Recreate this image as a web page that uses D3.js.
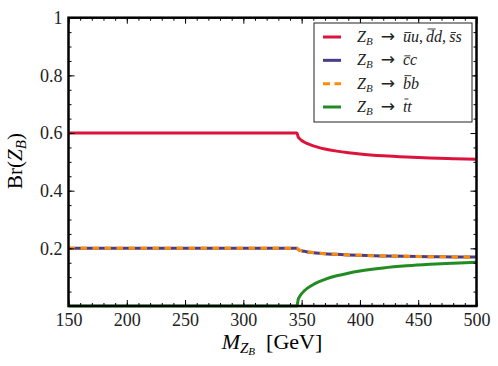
<!DOCTYPE html>
<html>
<head>
<meta charset="utf-8">
<script src="https://cdn.jsdelivr.net/npm/d3@7"></script>
<style>
  body { margin: 0; background: #fff; }
  text { font-family: "Liberation Serif", "DejaVu Serif", serif; }
</style>
</head>
<body>
<svg id="chart" width="498" height="366"></svg>
<script>
// Z_B mass (GeV) and branching ratios
const massGeV = [150, 200, 250, 300, 346, 347, 348, 350, 352, 355, 360, 365, 370, 380, 390, 400, 420, 440, 460, 480, 500];
const brLight = [0.6, 0.6, 0.6, 0.6, 0.6, 0.5867, 0.5814, 0.5742, 0.569, 0.5629, 0.5552, 0.5493, 0.5445, 0.5372, 0.5316, 0.5273, 0.5209, 0.5165, 0.5132, 0.5108, 0.5089];
const brCharm = [0.2, 0.2, 0.2, 0.2, 0.2, 0.1956, 0.1938, 0.1914, 0.1897, 0.1876, 0.1851, 0.1831, 0.1815, 0.1791, 0.1772, 0.1758, 0.1736, 0.1722, 0.1711, 0.1703, 0.1696];
const brBottom = [0.2, 0.2, 0.2, 0.2, 0.2, 0.1956, 0.1938, 0.1914, 0.1897, 0.1876, 0.1851, 0.1831, 0.1815, 0.1791, 0.1772, 0.1758, 0.1736, 0.1722, 0.1711, 0.1703, 0.1696];
const brTop = [0, 0, 0, 0, 0, 0.0222, 0.031, 0.043, 0.0517, 0.0619, 0.0747, 0.0845, 0.0924, 0.1047, 0.1139, 0.1212, 0.1318, 0.1392, 0.1446, 0.1487, 0.152];

const xTicks = [150, 200, 250, 300, 350, 400, 450, 500];
const yTicks = [0.2, 0.4, 0.6, 0.8, 1];

// legend: final-state quark pairs, each written as antiquark + quark
const legendPairs = [['u', 'd', 's'], ['c'], ['b'], ['t']];

const svg = d3.select('#chart');
const pLeft = 68.5, pRight = 476.5, pTop = 17.7, pBottom = 306;

const x = d3.scaleLinear().domain([150, 500]).range([pLeft, pRight]);
const y = d3.scaleLinear().domain([0, 1]).range([pBottom, pTop]);

svg.append('clipPath').attr('id', 'plotclip')
  .append('rect')
  .attr('x', pLeft).attr('y', pTop - 2)
  .attr('width', pRight - pLeft).attr('height', pBottom - pTop + 4);

const series = [
  { vals: brLight, color: '#dc143c', dash: null },
  { vals: brCharm, color: '#483d8b', dash: null },
  { vals: brBottom, color: '#ff8c00', dash: '6.5,5.5' },
  { vals: brTop, color: '#228b22', dash: null }
];

const line = d3.line()
  .x((d) => x(d[0]))
  .y((d) => y(d[1]))
  .curve(d3.curveMonotoneX);

const g = svg.append('g').attr('clip-path', 'url(#plotclip)');
series.forEach((s) => {
  g.append('path')
    .datum(massGeV.map((m, i) => [m, s.vals[i]]))
    .attr('d', line)
    .attr('fill', 'none')
    .attr('stroke', s.color)
    .attr('stroke-width', 3)
    .attr('stroke-dasharray', s.dash);
});

// ticks (inward, mirrored on all four sides)
const xMinor = d3.range(150, 501, 10);
const yMinor = d3.range(0, 1.001, 0.05);
const fmtY = (d) => (d === 1 ? '1' : d.toFixed(1));

function tickAxis(axis, pos, transform, values, size, labels, fmt) {
  const a = axis(pos).tickValues(values).tickSize(-size).tickPadding(labels ? 7 : 0);
  a.tickFormat(labels ? fmt : () => '');
  const ga = svg.append('g').attr('transform', transform).call(a);
  ga.select('.domain').remove();
  ga.selectAll('line').attr('stroke', '#000').attr('stroke-width', 1);
  ga.selectAll('text')
    .style('font-family', '"Liberation Serif", serif')
    .style('font-size', '18px')
    .attr('fill', '#222');
  return ga;
}

tickAxis(d3.axisBottom, x, `translate(0,${pBottom})`, xMinor, 3, false);
tickAxis(d3.axisBottom, x, `translate(0,${pBottom})`, xTicks, 6, true, d3.format('d'));
tickAxis(d3.axisTop, x, `translate(0,${pTop})`, xMinor, 3, false);
tickAxis(d3.axisTop, x, `translate(0,${pTop})`, xTicks, 6, false);
tickAxis(d3.axisLeft, y, `translate(${pLeft},0)`, yMinor, 3, false);
const ly = tickAxis(d3.axisLeft, y, `translate(${pLeft},0)`, yTicks, 6, true, fmtY);
ly.selectAll('text').attr('x', -6);
tickAxis(d3.axisRight, y, `translate(${pRight},0)`, yMinor, 3, false);
tickAxis(d3.axisRight, y, `translate(${pRight},0)`, yTicks, 6, false);

// frame
svg.append('rect')
  .attr('x', pLeft).attr('y', pTop)
  .attr('width', pRight - pLeft).attr('height', pBottom - pTop)
  .attr('fill', 'none').attr('stroke', '#000').attr('stroke-width', 2.5);

// axis labels
const yl = svg.append('text')
  .attr('transform', 'translate(22,161) rotate(-90)')
  .attr('text-anchor', 'middle')
  .style('font-size', '21px');
yl.append('tspan').text('Br(');
yl.append('tspan').attr('font-style', 'italic').text('Z');
yl.append('tspan').attr('font-style', 'italic').attr('font-size', '15px').attr('dy', 4).text('B');
yl.append('tspan').attr('dy', -4).text(')');

const xl = svg.append('text')
  .attr('x', 272).attr('y', 349)
  .attr('text-anchor', 'middle')
  .style('font-size', '22px');
xl.append('tspan').attr('font-style', 'italic').text('M');
xl.append('tspan').attr('font-style', 'italic').attr('font-size', '15px').attr('dy', 4).text('Z');
xl.append('tspan').attr('font-style', 'italic').attr('font-size', '11px').attr('dy', 2).text('B');
xl.append('tspan').attr('dy', -6).text('\u2002[GeV]');

// legend
svg.append('rect')
  .attr('x', 314).attr('y', 23).attr('width', 158).attr('height', 99)
  .attr('fill', '#fff').attr('stroke', '#222').attr('stroke-width', 1);

const tallLetters = 'bdt';
const legendY = d3.scaleLinear().domain([0, 3]).range([37, 107]);
series.forEach((s, i) => {
  const yy = legendY(i);
  svg.append('line')
    .attr('x1', 323).attr('x2', 341).attr('y1', yy).attr('y2', yy)
    .attr('stroke', s.color).attr('stroke-width', 3)
    .attr('stroke-dasharray', i === 2 ? '7,4.5' : null);
  const t = svg.append('text')
    .attr('x', 357).attr('y', yy + 5)
    .style('font-size', '16px')
    .attr('fill', '#222');
  t.append('tspan').attr('font-style', 'italic').text('Z');
  t.append('tspan').attr('font-style', 'italic').attr('font-size', '11px').attr('dy', 3).text('B');
  t.append('tspan').attr('dy', -3).text('\u2002');
  t.append('tspan').style('font-family', '"DejaVu Sans", sans-serif').attr('font-size', '17px').text('\u2192');
  t.append('tspan').text('\u2002');
  const bars = [];
  legendPairs[i].forEach((q, k) => {
    if (k > 0) t.append('tspan').text(',\u2009');
    bars.push(t.append('tspan').attr('font-style', 'italic').text(q).node());
    t.append('tspan').attr('font-style', 'italic').text(q);
  });
  // overbar on the antiquark letter
  bars.forEach((node) => {
    const b = node.getBBox();
    const ch = node.textContent;
    const by = yy + 5 - (tallLetters.includes(ch) ? 13 : 9.5);
    svg.append('line')
      .attr('x1', b.x + 1.5).attr('x2', b.x + b.width + 0.5)
      .attr('y1', by).attr('y2', by)
      .attr('stroke', '#222').attr('stroke-width', 0.9);
  });
});
</script>
</body>
</html>
